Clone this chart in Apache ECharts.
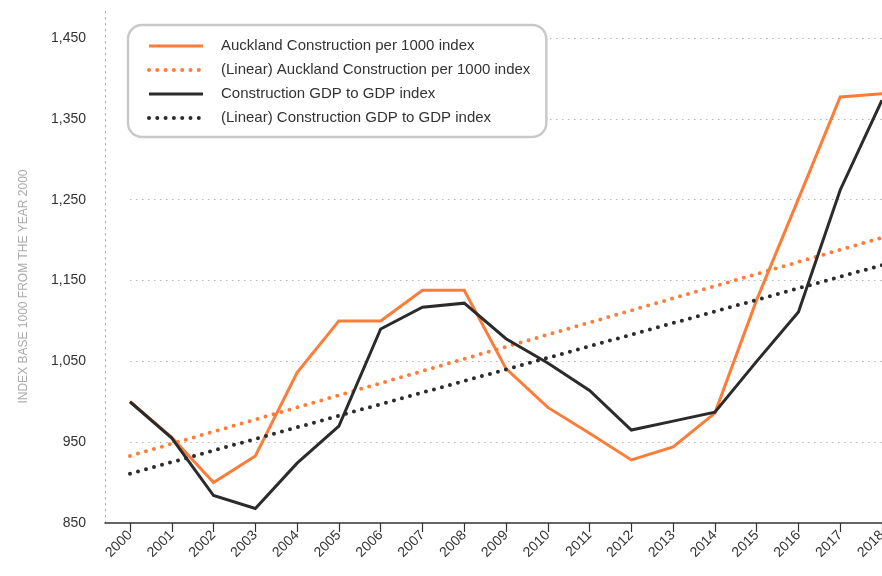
<!DOCTYPE html>
<html>
<head>
<meta charset="utf-8">
<script src="https://cdn.jsdelivr.net/npm/echarts@6/dist/echarts.min.js"></script>
<style>
  html, body { margin: 0; padding: 0; background: #fff; }
  #chart { width: 882px; height: 576px; }
</style>
</head>
<body>
<div id="chart"></div>
<script>
// data
const years = ['2000', '2001', '2002', '2003', '2004', '2005', '2006', '2007', '2008', '2009',
  '2010', '2011', '2012', '2013', '2014', '2015', '2016', '2017', '2018']
const aucklandIndex = [1000, 956, 900, 933, 1036, 1100, 1100, 1138, 1138, 1041,
  993, 961, 928, 944, 986, 1126, 1251, 1377, 1381]
const gdpIndex = [1000, 955, 884, 868, 924, 970, 1090, 1117, 1122, 1078,
  1048, 1014, 965, 976, 987, 1050, 1111, 1262, 1373]
// trend lines: value at first and last year
const aucklandTrend = [933, 1203]
const gdpTrend = [911, 1169]
const yTicks = { min: 850, max: 1450, step: 100 }

const orange = '#fd7d38'
const dark = '#2b2b2b'
const font = 'Helvetica, Arial, "Liberation Sans", sans-serif'
const dots = [0, 8.3]

const endsOnly = (pair) => years.map((_, i) => (i === 0 ? pair[0] : i === years.length - 1 ? pair[1] : null))

const solid = (name, data, color) => ({
  name,
  type: 'line',
  xAxisIndex: 1,
  yAxisIndex: 1,
  data,
  symbol: 'none',
  clip: false,
  itemStyle: { color },
  lineStyle: { color, width: 3, join: 'miter' }
})

const dotted = (name, pair, color) => ({
  name,
  type: 'line',
  xAxisIndex: 1,
  yAxisIndex: 1,
  data: endsOnly(pair),
  connectNulls: true,
  symbol: 'none',
  clip: false,
  itemStyle: { color },
  lineStyle: { color, width: 4, type: dots, cap: 'round' }
})

const names = [
  'Auckland Construction per 1000 index',
  '(Linear) Auckland Construction per 1000 index',
  'Construction GDP to GDP index',
  '(Linear) Construction GDP to GDP index'
]

const chart = echarts.init(document.getElementById('chart'))
chart.setOption({
  animation: false,
  textStyle: { fontFamily: font },
  grid: [
    { left: 105, right: 0, top: 7, bottom: 53, outerBoundsMode: 'none' },
    { left: 130, right: 0, top: 38, bottom: 53, outerBoundsMode: 'none' }
  ],
  legend: {
    orient: 'vertical',
    left: 128,
    top: 25,
    backgroundColor: '#fff',
    borderColor: '#c9c9c9',
    borderWidth: 2.5,
    borderRadius: 14,
    padding: [13, 16, 11, 19],
    itemWidth: 54,
    itemHeight: 14,
    itemGap: 8,
    itemStyle: { opacity: 0 },
    data: [
      { name: names[0], lineStyle: { width: 3, type: 'solid' } },
      { name: names[1], lineStyle: { width: 4, type: dots, cap: 'round' } },
      { name: names[2], lineStyle: { width: 3, type: 'solid' } },
      { name: names[3], lineStyle: { width: 4, type: dots, cap: 'round' } }
    ],
    textStyle: { fontSize: 15, color: '#333', lineHeight: 16, padding: [0, 0, 0, 13], fontFamily: font }
  },
  xAxis: [
    {
      gridIndex: 0,
      type: 'value',
      min: 0,
      max: 1,
      axisLine: { show: true, lineStyle: { color: '#333', width: 1.5 } },
      axisTick: { show: false },
      axisLabel: { show: false },
      splitLine: { show: false }
    },
    {
      gridIndex: 1,
      type: 'category',
      data: years,
      boundaryGap: false,
      axisLine: { show: false },
      axisTick: { show: true, length: 9, lineStyle: { color: '#333', width: 1.2 } },
      axisLabel: { rotate: 45, margin: 10, fontSize: 14, color: '#333', interval: 0 },
      splitLine: { show: false }
    }
  ],
  yAxis: [
    {
      gridIndex: 0,
      type: 'value',
      min: 0,
      max: 1,
      axisLine: { show: true, lineStyle: { color: '#aaa', width: 1, type: [1.5, 4.5] } },
      axisTick: { show: false },
      axisLabel: { show: false },
      splitLine: { show: false }
    },
    {
      gridIndex: 1,
      type: 'value',
      min: yTicks.min,
      max: yTicks.max,
      interval: yTicks.step,
      name: 'INDEX BASE 1000 FROM THE YEAR 2000',
      nameLocation: 'middle',
      nameGap: 100,
      nameTextStyle: { color: '#aaa', fontSize: 12, padding: [0, 12, 0, 0] },
      axisLine: { show: false },
      axisTick: { show: false },
      axisLabel: {
        color: '#333',
        fontSize: 14,
        margin: 44,
        padding: [0, 0, 8, 0],
        formatter: (v) => v.toLocaleString('en-US')
      },
      splitLine: {
        show: true,
        showMinLine: false,
        lineStyle: { color: '#b5b5b5', width: 1, type: [1.5, 4.5] }
      }
    }
  ],
  series: [
    solid(names[0], aucklandIndex, orange),
    dotted(names[1], aucklandTrend, orange),
    solid(names[2], gdpIndex, dark),
    dotted(names[3], gdpTrend, dark)
  ]
})
</script>
</body>
</html>
